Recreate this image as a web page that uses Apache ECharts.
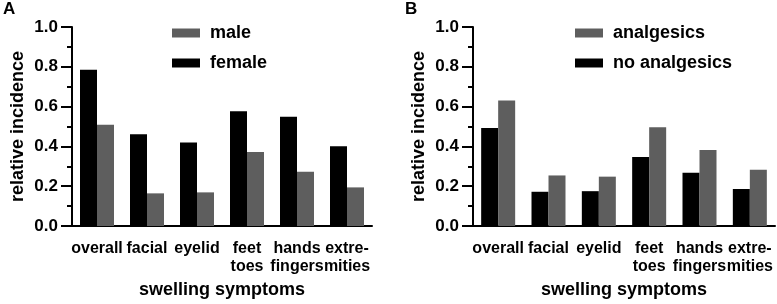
<!DOCTYPE html>
<html>
<head>
<meta charset="utf-8">
<script src="https://cdn.jsdelivr.net/npm/echarts@6/dist/echarts.min.js"></script>
<style>
  html, body { margin: 0; padding: 0; background: #fff; }
  #chart { width: 777px; height: 304px; }
</style>
</head>
<body>
<div id="chart"></div>
<script>
// categories shared by both panels
const categories = ['overall', 'facial', 'eyelid', 'feet\ntoes', 'hands\nfingers', 'extre-\nmities'];
const yTicks = [0, 0.2, 0.4, 0.6, 0.8, 1.0];

// panel A
const female = [0.785, 0.461, 0.420, 0.577, 0.549, 0.401];
const male = [0.509, 0.164, 0.169, 0.372, 0.272, 0.194];

// panel B
const noAnalgesics = [0.492, 0.172, 0.175, 0.347, 0.268, 0.186];
const analgesics = [0.631, 0.254, 0.248, 0.496, 0.382, 0.283];

const BLACK = '#000000';
const GRAY = '#5e5e5e';
const FONT = 'Liberation Sans, Arial, sans-serif';

const chart = echarts.init(document.getElementById('chart'));

function xAxisFor(gridIndex) {
  return {
    type: 'category',
    gridIndex,
    data: categories,
    boundaryGap: true,
    name: 'swelling symptoms',
    nameLocation: 'middle',
    nameGap: 55,
    nameTextStyle: { fontFamily: FONT, fontWeight: 'bold', fontSize: 18, color: BLACK },
    axisLine: { lineStyle: { color: BLACK, width: 2 } },
    axisTick: { alignWithLabel: true, length: 10, lineStyle: { color: BLACK, width: 2 } },
    axisLabel: {
      interval: 0,
      margin: 14,
      fontFamily: FONT, fontWeight: 'bold', fontSize: 16, lineHeight: 18, color: BLACK
    },
    splitLine: { show: false }
  };
}

function yAxisFor(gridIndex) {
  return {
    type: 'value',
    gridIndex,
    min: yTicks[0],
    max: yTicks[yTicks.length - 1],
    interval: 0.2,
    name: 'relative incidence',
    nameLocation: 'middle',
    nameGap: 45,
    nameTextStyle: { fontFamily: FONT, fontWeight: 'bold', fontSize: 18, color: BLACK },
    axisLine: { show: true, lineStyle: { color: BLACK, width: 2 } },
    axisTick: { show: true, length: 11, lineStyle: { color: BLACK, width: 2 } },
    minorTick: { show: true, splitNumber: 2, length: 5, lineStyle: { color: BLACK, width: 2 } },
    axisLabel: {
      margin: 14,
      fontFamily: FONT, fontWeight: 'bold', fontSize: 17, color: BLACK,
      formatter: v => v.toFixed(1)
    },
    splitLine: { show: false }
  };
}

function legendFor(left, names) {
  return {
    orient: 'vertical',
    left,
    top: 19,
    itemWidth: 28,
    itemHeight: 9,
    itemGap: 12,
    icon: 'rect',
    selectedMode: false,
    data: names,
    textStyle: {
      fontFamily: FONT, fontWeight: 'bold', fontSize: 18, color: BLACK,
      padding: [0, 0, 0, 5]
    }
  };
}

function bar(name, data, color, idx) {
  return {
    name,
    type: 'bar',
    xAxisIndex: idx,
    yAxisIndex: idx,
    data,
    barWidth: 17,
    barGap: '0%',
    itemStyle: { color },
    animation: false
  };
}

chart.setOption({
  animation: false,
  title: [
    { text: 'A', left: -2, top: -4, textStyle: { fontFamily: FONT, fontWeight: 'bold', fontSize: 17, color: BLACK } },
    { text: 'B', left: 400, top: -4, textStyle: { fontFamily: FONT, fontWeight: 'bold', fontSize: 17, color: BLACK } }
  ],
  legend: [
    legendFor(167, ['male', 'female']),
    legendFor(570, ['analgesics', 'no analgesics'])
  ],
  grid: [
    { left: 72, top: 27, width: 300, height: 201, containLabel: false },
    { left: 473, top: 27, width: 302, height: 201, containLabel: false }
  ],
  xAxis: [xAxisFor(0), xAxisFor(1)],
  yAxis: [yAxisFor(0), yAxisFor(1)],
  series: [
    bar('female', female, BLACK, 0),
    bar('male', male, GRAY, 0),
    bar('no analgesics', noAnalgesics, BLACK, 1),
    bar('analgesics', analgesics, GRAY, 1)
  ]
});
</script>
</body>
</html>
